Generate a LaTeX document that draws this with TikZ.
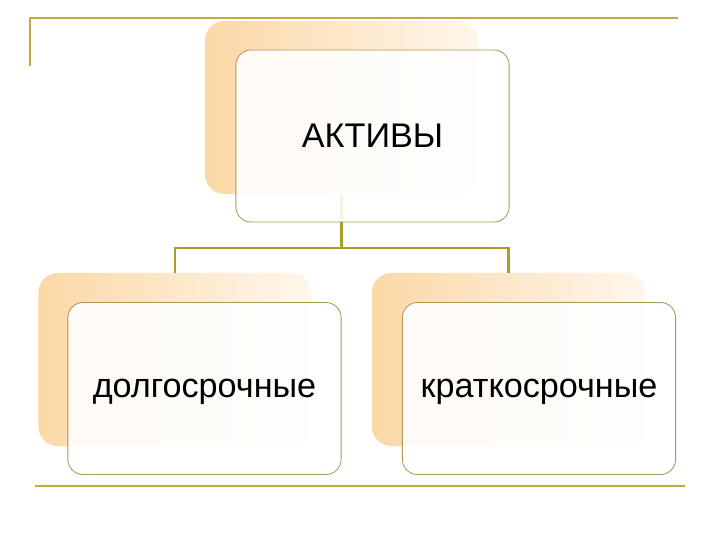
\documentclass[tikz,border=0pt]{standalone}
\usepackage{fontspec}
\setmainfont{Liberation Sans}
\usepackage{xcolor}
\usepackage{tikz}
\usetikzlibrary{shapes,arrows,positioning,fit,calc}

\definecolor{rulegold}{RGB}{196,170,62}
\definecolor{linkolive}{RGB}{170,158,42}
\definecolor{edgegold}{RGB}{178,150,84}
\definecolor{peach}{RGB}{251,216,166}
\definecolor{cream}{RGB}{255,247,236}

\begin{document}
\begin{tikzpicture}[x=0.025cm, y=-0.025cm,
    backbox/.style={rectangle, rounded corners=0.5cm, left color=peach, right color=cream,
        minimum width=6.83cm, minimum height=4.33cm, inner sep=0pt},
    frontbox/.style={rectangle, rounded corners=0.38cm, draw=edgegold, line width=0.6pt,
        fill=white, fill opacity=0.88, text opacity=1,
        minimum width=6.83cm, minimum height=4.3cm, inner sep=0pt, text depth=0pt,
        font=\fontsize{24.3}{29}\selectfont},
    link/.style={draw=linkolive, line width=1.6pt},
    goldrule/.style={draw=rulegold, line width=1.9pt}]
    \useasboundingbox (0,0) rectangle (720,540);

    % frame lines
    \draw [goldrule] (30,66) -- (30,18) -- (678,18);
    \draw [goldrule] (35,486) -- (685,486);

    % back boxes
    \node (topback) [backbox] at (341.5,107.5) {};
    \node (leftback) [backbox] at (175,359.5) {};
    \node (rightback) [backbox] at (508.5,359.5) {};

    % connectors
    \coordinate (bus) at (341.5,248);
    \draw [link] (topback.south) -- (bus) -| (leftback.north);
    \draw [link] (bus) -| (rightback.north);

    % front boxes
    \node (assets) [frontbox] at (372.5,136) {АКТИВЫ};
    \node (longterm) [frontbox] at (204.5,388.5) {долгосрочные};
    \node (shortterm) [frontbox] at (539,388.5) {краткосрочные};
\end{tikzpicture}
\end{document}
